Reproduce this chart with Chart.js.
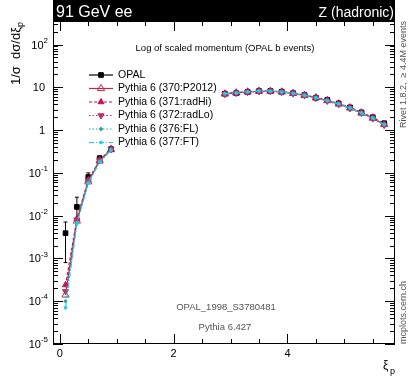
<!DOCTYPE html>
<html>
<head>
<meta charset="utf-8">
<script src="https://cdn.jsdelivr.net/npm/chart.js@4.4.0/dist/chart.umd.min.js"></script>
<style>
html,body{margin:0;padding:0;background:#fff}
#wrap{width:408px;height:379px;position:relative}
</style>
</head>
<body>
<div id="wrap"><canvas id="c"></canvas></div>
<script>
// bin centres in xi_p (gap between 0.9 and 2.9 is not measured)
const xi=[0.1,0.3,0.5,0.7,0.9,2.9,3.1,3.3,3.5,3.7,3.9,4.1,4.3,4.5,4.7,4.9,5.1,5.3,5.5,5.7];
const opal=[0.0039,0.016,0.08,0.22,0.36,7.1,7.3,7.8,8.2,8.2,7.9,7.3,6.6,5.7,5.1,4.2,3.4,2.6,2.0,1.45];
const opalLo=[0.0008,0.009,0.066,0.19,0.33,6.9,7.1,7.6,8.0,8.0,7.7,7.1,6.4,5.5,4.9,4.0,3.25,2.48,1.9,1.37];
const opalHi=[0.0071,0.027,0.1,0.25,0.4,7.3,7.5,8.0,8.4,8.4,8.1,7.5,6.8,5.9,5.3,4.4,3.55,2.72,2.1,1.53];
const p2012=[1.4e-4,0.0075,0.062,0.19,0.35,7.0,7.4,7.8,8.1,8.1,7.8,7.2,6.5,5.7,4.9,4.1,3.3,2.5,1.9,1.35];
const radHi=[2.4e-4,0.0085,0.068,0.2,0.36,7.2,7.5,7.9,8.2,8.2,7.9,7.3,6.6,5.8,5.0,4.2,3.4,2.6,2.0,1.4];
const radLo=[1.7e-4,0.008,0.065,0.195,0.355,6.9,7.3,7.7,8.0,8.0,7.7,7.1,6.4,5.6,4.8,4.0,3.2,2.5,1.85,1.3];
const fl=[1.0e-4,0.007,0.06,0.185,0.345,7.1,7.4,7.8,8.1,8.1,7.8,7.2,6.5,5.7,4.9,4.1,3.3,2.55,1.95,1.35];
const ft=[7e-5,0.0065,0.058,0.18,0.34,7.1,7.4,7.8,8.2,8.1,7.8,7.2,6.5,5.7,4.9,4.1,3.3,2.5,1.9,1.35];
const xTicks=[0,2,4];
const yExp=[2,1,0,-1,-2,-3,-4,-5];

const FONT="'Liberation Sans', Arial, sans-serif";

function pts(vals){
  const out=[];
  for(let i=0;i<xi.length;i++){
    if(i>0 && xi[i]-xi[i-1]>0.5) out.push({x:(xi[i]+xi[i-1])/2,y:null});
    out.push({x:xi[i],y:vals[i]});
  }
  return out;
}

const series=[
  {label:'OPAL',data:opal,color:'#000',style:'rect',r:3.3,dash:[],line:false,fill:'#000',order:6},
  {label:'Pythia 6 (370:P2012)',data:p2012,color:'#c02848',style:'triangle',r:4.2,dash:[],line:true,fill:'rgba(0,0,0,0)',order:5},
  {label:'Pythia 6 (371:radHi)',data:radHi,color:'#c8105a',style:'triangle',r:3.5,dash:[3,2],line:true,fill:'#c8105a',order:4},
  {label:'Pythia 6 (372:radLo)',data:radLo,color:'#c03065',style:'triangle',r:3.5,rot:180,dash:[1.5,2],line:true,fill:'#c03065',order:3},
  {label:'Pythia 6 (376:FL)',data:fl,color:'#28a890',style:'circle',r:1.4,dash:[1.5,2],line:true,fill:'#28a890',order:2},
  {label:'Pythia 6 (377:FT)',data:ft,color:'#10d0f0',style:'circle',r:1.4,dash:[5,2,1,2],line:true,fill:'#10d0f0',order:1}
];

const datasets=series.map(s=>({
  label:s.label,data:pts(s.data),showLine:s.line,borderColor:s.color,borderWidth:1.2,
  borderDash:s.dash,pointStyle:s.style,pointRadius:s.r,pointRotation:s.rot||0,
  pointBackgroundColor:s.fill,pointBorderColor:s.color,pointBorderWidth:1,
  tension:0,order:s.order,spanGaps:false
}));

const deco={
  id:'deco',
  beforeDatasetsDraw(chart){
    const c=chart.ctx,x=chart.scales.x,y=chart.scales.y;
    c.save();c.strokeStyle='#000';c.lineWidth=1;
    for(let i=0;i<xi.length;i++){
      const px=x.getPixelForValue(xi[i]);
      const a=y.getPixelForValue(opalLo[i]),b=y.getPixelForValue(opalHi[i]);
      c.beginPath();c.moveTo(px,a);c.lineTo(px,b);
      c.moveTo(px-2,a);c.lineTo(px+2,a);c.moveTo(px-2,b);c.lineTo(px+2,b);c.stroke();
    }
    c.restore();
  },
  afterDraw(chart){
    const c=chart.ctx,a=chart.chartArea,x=chart.scales.x,y=chart.scales.y;
    c.save();
    // frame
    c.strokeStyle='#000';c.lineWidth=1;
    c.strokeRect(a.left+0.5,a.top+0.5,a.right-a.left-1,a.bottom-a.top-1);
    c.beginPath();
    for(let v=0;v<=5.8;v+=0.5){
      const px=Math.round(x.getPixelForValue(v))+0.5;
      const L=(Math.abs(v%2)<1e-6)?10:5;
      c.moveTo(px,a.bottom);c.lineTo(px,a.bottom-L);
      c.moveTo(px,a.top);c.lineTo(px,a.top+L);
    }
    for(let e=-5;e<=2;e++){
      for(let m=1;m<=9;m++){
        const v=m*Math.pow(10,e);
        if(v>y.max) break;
        const py=Math.round(y.getPixelForValue(v))+0.5;
        const L=m===1?10:5;
        c.moveTo(a.left,py);c.lineTo(a.left+L,py);
        c.moveTo(a.right,py);c.lineTo(a.right-L,py);
      }
    }
    c.stroke();
    // x tick labels
    c.fillStyle='#000';c.font='11px '+FONT;c.textAlign='center';c.textBaseline='middle';
    xTicks.forEach(v=>c.fillText(String(v),x.getPixelForValue(v),354));
    // y tick labels
    c.textAlign='right';
    yExp.forEach(e=>{
      const py=y.getPixelForValue(Math.pow(10,e))+1;
      if(e===0||e===1){c.font='11px '+FONT;c.fillText(e===0?'1':'10',45,py);return;}
      c.font='8px '+FONT;const es=String(e);
      const ew=c.measureText(es).width;c.fillText(es,48,py-5);
      c.font='11px '+FONT;c.fillText('10',48-ew,py);
    });
    // header bar
    c.fillStyle='#000';c.fillRect(a.left,0,a.right-a.left,a.top);
    c.fillStyle='#fff';c.textBaseline='alphabetic';
    c.font='16px '+FONT;c.textAlign='left';c.fillText('91 GeV ee',a.left+3,17);
    c.font='14px '+FONT;c.textAlign='right';c.fillText('Z (hadronic)',a.right-1,17);
    // title
    c.fillStyle='#000';c.font='9.5px '+FONT;c.textAlign='center';
    c.fillText('Log of scaled momentum (OPAL b events)',225,51);
    // axis titles
    c.font='12px '+FONT;c.textAlign='left';
    c.fillText('\u03be',383,369);c.font='9px '+FONT;c.fillText('p',390,374);
    c.save();c.translate(20,22);c.rotate(-Math.PI/2);
    c.font='9px '+FONT;const pw=c.measureText('p').width;
    c.font='13px '+FONT;const main='1/\u03c3  d\u03c3/d\u03be';const mw=c.measureText(main).width;
    c.textAlign='left';c.fillText(main,-mw-pw,0);
    c.font='9px '+FONT;c.fillText('p',-pw,3);
    c.restore();
    // legend
    c.textBaseline='middle';
    series.forEach((s,i)=>{
      const ly=75+i*13.5;
      c.strokeStyle=s.color;c.lineWidth=1.2;c.setLineDash(s.dash);
      c.beginPath();c.moveTo(89,ly);c.lineTo(113,ly);c.stroke();c.setLineDash([]);
      c.fillStyle=s.fill;c.strokeStyle=s.color;c.lineWidth=1;
      Chart.helpers.drawPoint(c,{pointStyle:s.style,radius:s.r,rotation:s.rot||0,borderWidth:1},101,ly);
      c.fillStyle='#000';c.font='10.5px '+FONT;c.textAlign='left';c.fillText(s.label,118,ly);
    });
    // info text
    c.fillStyle='#555';c.font='9.5px '+FONT;c.textAlign='center';c.textBaseline='middle';
    c.fillText('OPAL_1998_S3780481',226,307);
    c.fillText('Pythia 6.427',225,327);
    // side labels
    c.translate(404,0);c.rotate(-Math.PI/2);
    c.font='9px '+FONT;c.textAlign='right';c.textBaseline='middle';
    c.fillText('Rivet 1.8.2,  \u2265 4.4M events',-21,0);
    c.textAlign='left';c.fillText('mcplots.cern.ch',-344,0);
    c.restore();
  }
};

new Chart(document.getElementById('c'),{
  type:'line',
  data:{datasets:datasets},
  options:{
    responsive:true,maintainAspectRatio:false,animation:false,
    layout:{padding:{left:53,right:13,top:21,bottom:35}},
    plugins:{legend:{display:false},tooltip:{enabled:false}},
    scales:{
      x:{type:'linear',min:-0.12,max:5.89,display:false},
      y:{type:'logarithmic',min:1e-5,max:355,display:false}
    }
  },
  plugins:[deco]
});
</script>
</body>
</html>
